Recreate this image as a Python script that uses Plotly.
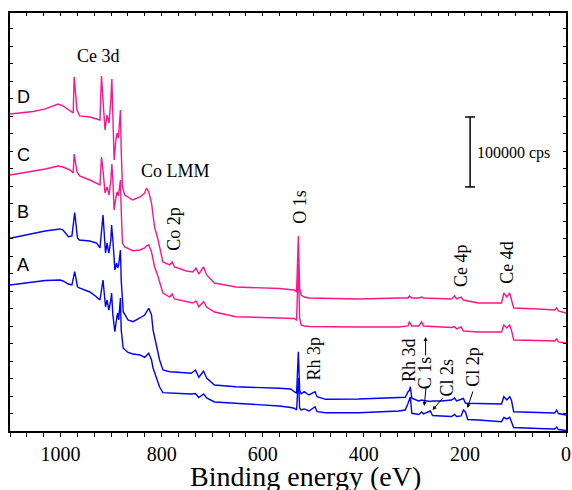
import plotly.graph_objects as go

# ---------------- data (binding energy in eV, intensity in kcps, offsets as plotted) ----------------
pink_energy = [1100, 1054, 1030, 1005, 995, 981, 975, 973, 970, 967.5, 962, 942, 922, 919, 916, 912, 908, 904,
               900.5, 898.5, 896.5, 894, 890.5, 888, 885.5, 881.5, 880, 877.5, 873, 857, 843, 833.5, 830, 825.5,
               820, 814, 807, 800.5, 797.5, 784, 779, 774.5, 751, 738, 732, 726.5, 717, 711, 695.5, 653, 567.5,
               538, 533, 529.5, 527, 524, 518, 508.5, 410, 331, 312.5, 310, 305, 291.5, 285.5, 282, 226.5, 220.5,
               216.5, 207.5, 203, 173.5, 127.5, 123, 117, 111.5, 108, 103.5, 55, 22.5, 18.5, 15, 0]

spectrum_D = [453.3, 456.9, 460.5, 467.6, 464.8, 457.6, 454.7, 506.2, 480.5, 459.0,
              450.5, 449.0, 444.7, 507.7, 473.3, 430.4, 451.9, 440.4, 473.3, 503.4,
              451.9, 387.5, 416.1, 426.1, 419.0, 459.0, 401.8, 348.9, 337.5, 330.3,
              334.6, 340.3, 347.5, 341.8, 326.0, 291.7, 273.1, 248.8, 241.7, 237.4,
              241.7, 234.5, 228.8, 227.4, 233.1, 224.5, 234.5, 223.1, 211.6, 205.9,
              203.8, 201.6, 198.8, 278.9, 204.5, 194.5, 191.6, 190.2, 188.8, 190.2,
              190.2, 193.1, 190.2, 190.2, 191.6, 190.2, 188.8, 193.1, 188.8, 191.6,
              187.3, 183.0, 183.0, 197.3, 191.6, 197.3, 187.3, 175.9, 174.5, 173.0,
              175.9, 171.6, 168.7]

spectrum_C = [366.1, 371.8, 374.7, 379.0, 377.5, 373.2, 368.9, 396.1, 383.2, 370.4,
              364.7, 358.9, 351.8, 391.8, 373.2, 340.3, 348.9, 337.5, 358.9, 381.8,
              358.9, 316.0, 333.2, 341.8, 336.1, 358.9, 316.0, 268.8, 263.1, 257.8,
              258.8, 261.7, 264.6, 266.0, 256.0, 234.9, 220.6, 204.1, 197.3, 191.6,
              195.9, 188.8, 184.5, 183.0, 185.9, 177.7, 184.9, 177.3, 170.2, 163.4,
              161.6, 160.9, 158.7, 238.8, 161.6, 151.6, 150.2, 149.4, 148.7, 148.7,
              150.2, 156.3, 150.2, 150.2, 155.9, 150.2, 148.0, 149.4, 145.9, 148.7,
              143.0, 141.6, 141.6, 151.6, 147.3, 151.6, 144.4, 130.1, 129.4, 128.7,
              131.6, 127.3, 125.8]

blue_energy = [1100, 1054, 1030.5, 1001, 995, 984.5, 977.5, 972, 969.5, 966.5, 963, 942, 928.5, 922, 916, 913,
               911, 908, 904.5, 900.5, 899, 896.5, 892.5, 889, 887, 885, 881.5, 880, 876, 866.5, 856.5, 843,
               833.5, 825.5, 820, 817, 810.5, 804, 797.5, 784, 774.5, 741.5, 733, 726.5, 717, 711, 695.5, 653,
               567.5, 544.5, 538, 533, 529.5, 527, 524, 518, 508.5, 496.5, 492.5, 475.5, 410, 331, 318, 312.5,
               310, 308, 305, 291.5, 285.5, 282, 268.5, 264, 246, 226.5, 220.5, 216.5, 207.5, 203, 199, 194.5,
               173.5, 127.5, 123, 117, 111.5, 108, 103.5, 55, 22.5, 18.5, 15, 0]

spectrum_B = [275.6, 283.1, 286.0, 288.9, 287.4, 277.8, 278.9, 312.2, 294.6, 276.0,
              273.1, 271.7, 268.8, 261.7, 308.9, 273.1, 254.5, 268.8, 254.5, 273.1,
              294.6, 273.1, 230.2, 240.2, 233.1, 237.4, 258.8, 215.9, 170.6, 158.7,
              156.3, 161.6, 165.9, 175.5, 165.9, 144.4, 120.5, 101.5, 87.2, 84.8,
              84.4, 82.5, 87.2, 76.8, 85.8, 75.8, 65.8, 63.3, 61.1, 60.1,
              56.2, 54.3, 113.4, 58.6, 52.9, 56.2, 51.5, 56.2, 49.0, 45.3,
              45.8, 47.9, 48.2, 56.2, 57.9, 63.3, 46.8, 42.9, 44.3, 43.6,
              42.2, 42.9, 42.9, 44.3, 47.2, 42.9, 45.8, 46.5, 40.0, 39.6,
              39.3, 38.6, 49.0, 44.3, 49.0, 44.3, 27.6, 26.5, 25.7, 30.0,
              25.0, 22.9]

spectrum_A = [208.8, 213.5, 215.2, 215.9, 214.5, 210.2, 208.8, 227.8, 218.8, 206.3,
              204.5, 198.8, 191.6, 187.3, 215.9, 194.5, 177.7, 187.3, 173.0, 187.3,
              197.3, 165.9, 142.0, 161.6, 168.7, 158.7, 190.2, 144.4, 118.3, 112.3,
              110.1, 108.7, 105.4, 111.1, 101.5, 90.1, 75.8, 62.9, 54.8, 54.3,
              53.9, 52.9, 53.6, 47.9, 52.9, 47.2, 41.5, 39.6, 35.8, 33.6,
              32.5, 30.0, 75.8, 32.9, 30.0, 31.5, 28.6, 34.7, 27.6, 26.2,
              26.2, 28.6, 30.0, 39.6, 46.8, 48.6, 25.3, 23.6, 27.2, 24.3,
              28.6, 22.2, 21.5, 20.7, 23.6, 20.7, 21.5, 30.0, 27.2, 16.4,
              15.7, 13.3, 19.3, 17.2, 19.6, 14.3, 5.0, 3.6, 2.9, 5.7,
              2.1, 0.7]

x_tick_values = [0, 200, 400, 600, 800, 1000]
x_tick_labels = ["0", "200", "400", "600", "800", "1000"]
scale_bar_kcps = 100
scale_bar_label = "100000 cps"

PINK = "rgb(255,20,140)"
BLUE = "rgb(0,0,255)"
SERIF = "Liberation Serif"
SANS = "Liberation Sans"

fig = go.Figure()
for xs, ys, col in [(pink_energy, spectrum_D, PINK), (pink_energy, spectrum_C, PINK),
                    (blue_energy, spectrum_B, BLUE), (blue_energy, spectrum_A, BLUE)]:
    fig.add_trace(go.Scatter(x=xs, y=ys, mode="lines", line=dict(color=col, width=1.4),
                             showlegend=False, hoverinfo="skip"))

# invisible trace on top axis so its ticks are drawn
fig.add_trace(go.Scatter(x=[None], y=[None], xaxis="x2", showlegend=False, hoverinfo="skip"))

# scale bar
sb_x, sb_top = 189.7, 449
sb_bot = sb_top - scale_bar_kcps
line_style = dict(color="black", width=1.5)
fig.add_shape(type="line", xref="x", yref="y", x0=sb_x, x1=sb_x, y0=sb_bot, y1=sb_top, line=line_style)
fig.add_shape(type="line", xref="x", yref="y", x0=199.6, x1=179.9, y0=sb_top, y1=sb_top, line=line_style)
fig.add_shape(type="line", xref="x", yref="y", x0=199.6, x1=179.9, y0=sb_bot, y1=sb_bot, line=line_style)

def label(text, x, y, angle=0, size=18, family=SERIF, **kw):
    fig.add_annotation(text=text, x=x, y=y, xref="x", yref="y", showarrow=False, textangle=angle,
                       font=dict(family=family, size=size, color="black"), **kw)

label("Ce 3d", 925, 536)
label("Co LMM", 772.8, 372)
label("Co 2p", 776, 289, angle=-90)
label("O 1s", 528, 321, angle=-90)
label("Ce 4p", 208, 237, angle=-90)
label("Ce 4d", 116, 241, angle=-90)
label("Rh 3p", 498, 104, angle=-90)
label("Rh 3d", 312, 102, angle=-90)
label("C 1s", 279, 84, angle=-90)
label("Cl 2s", 235.5, 76.5, angle=-90)
label("Cl 2p", 183, 91, angle=-90)
label(scale_bar_label, 179.9, 397, size=16, xanchor="left")
for name, yy in [("D", 477), ("C", 395), ("B", 313), ("A", 238)]:
    label(name, 1074, yy, size=18, family=SANS)

def arrow(x, y, ax, ay):
    fig.add_annotation(x=x, y=y, xref="x", yref="y", ax=ax, ay=ay, text="", showarrow=True,
                       arrowhead=2, arrowsize=0.8, arrowwidth=1, arrowcolor="black")

arrow(277.8, 134.4, 0, 20)     # C 1s (upper spectra)
arrow(280.4, 35.8, 2, -21)     # C 1s (lower spectra)
arrow(264.0, 30.0, 11, -13)    # Cl 2s
arrow(195.1, 32.9, 6, -18)     # Cl 2p

fig.add_annotation(text="Binding energy (eV)", xref="paper", yref="paper", x=0.531, y=0,
                   yanchor="middle", yshift=-45, showarrow=False,
                   font=dict(family=SERIF, size=28, color="black"))

fig.update_layout(
    width=572, height=490,
    margin=dict(l=10, r=4, t=13, b=59),
    paper_bgcolor="white", plot_bgcolor="white",
    xaxis=dict(range=[1100, 0], tickmode="array", tickvals=x_tick_values, ticktext=x_tick_labels,
               ticks="outside", ticklen=4, tickwidth=1, tickcolor="black",
               minor=dict(tick0=0, dtick=200 / 6, ticks="outside", ticklen=4, tickwidth=1, tickcolor="black"),
               showline=True, linecolor="black", linewidth=1.5, mirror=True,
               showgrid=False, zeroline=False, automargin=False,
               tickfont=dict(family=SERIF, size=20, color="black")),
    xaxis2=dict(range=[1100, 0], overlaying="x", side="top", tickmode="linear", tick0=0, dtick=200 / 6,
                ticks="inside", ticklen=3, tickwidth=1, tickcolor="black", showticklabels=False,
                showgrid=False, zeroline=False, showline=False),
    yaxis=dict(range=[0, 597.7], tickmode="linear", tick0=0, dtick=25, ticks="inside", ticklen=3,
               tickwidth=1, tickcolor="black", showticklabels=False, showline=True, linecolor="black",
               linewidth=1.5, mirror="ticks", showgrid=False, zeroline=False),
)

fig.write_html("out.html", config={"displayModeBar": False},
               post_script="document.body.style.margin='0px';document.body.style.overflow='hidden';")
